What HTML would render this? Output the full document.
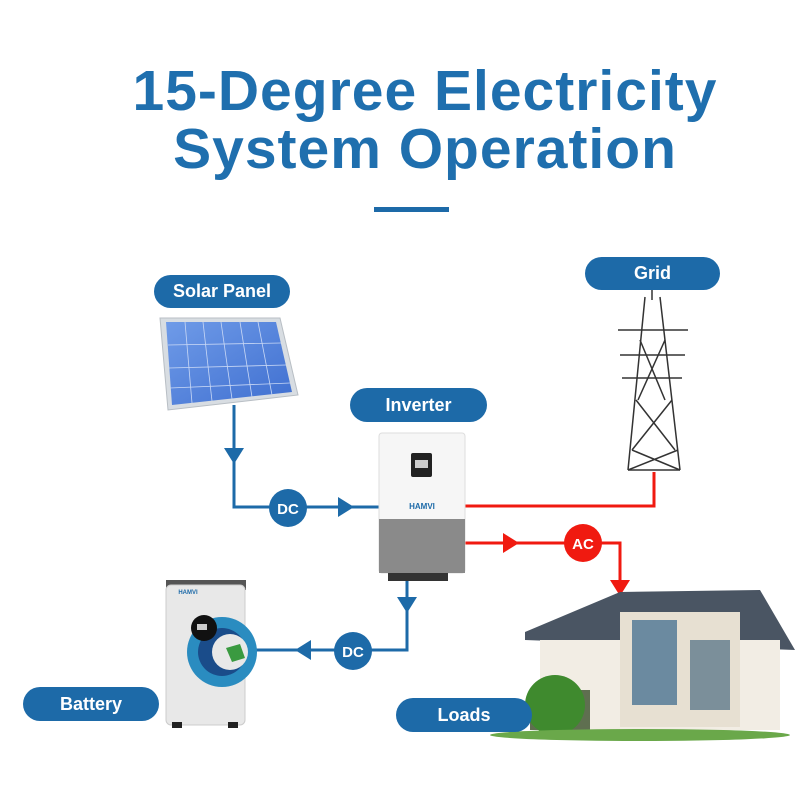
<!DOCTYPE html><html><head><style>
body{margin:0;width:800px;height:800px;background:#fff;overflow:hidden;position:relative;font-family:"Liberation Sans",sans-serif}
.t{position:absolute;left:25px;width:800px;text-align:center;color:#1f6fae;font-weight:bold;font-size:57px;line-height:58px;letter-spacing:1px}
.p{position:absolute;background:#1d6aa8;color:#fff;font-weight:bold;font-size:18px;border-radius:18px;text-align:center}
</style></head><body>
<div class="t" style="top:62px">15-Degree Electricity</div>
<div class="t" style="top:120px">System Operation</div>
<div style="position:absolute;left:374px;top:207px;width:75px;height:5px;background:#1d6aa8"></div>
<svg width="800" height="800" style="position:absolute;left:0;top:0">
<defs><linearGradient id="sp" x1="0" y1="0" x2="1" y2="1"><stop offset="0" stop-color="#6f9be8"/><stop offset="1" stop-color="#3f6fd0"/></linearGradient></defs>
<polygon points="160,318 280,318 298,395 168,410" fill="#d8dde2" stroke="#b8bec4"/>
<polygon points="166,322 276,322 292,392 172,405" fill="url(#sp)"/>
<g stroke="#c9d8f5" stroke-width="0.8">
<line x1="185" y1="322" x2="192" y2="403"/><line x1="203" y1="322" x2="212" y2="401"/><line x1="221" y1="322" x2="232" y2="399"/><line x1="240" y1="322" x2="252" y2="397"/><line x1="258" y1="322" x2="272" y2="395"/>
<line x1="168" y1="345" x2="281" y2="343"/><line x1="169" y1="368" x2="286" y2="365"/><line x1="170" y1="388" x2="290" y2="383"/></g>
<g stroke="#333" stroke-width="1.5" fill="none">
<path d="M645,297 L628,470 M660,297 L680,470 M652,290 L652,300"/>
<path d="M618,330 L688,330 M620,355 L685,355 M622,378 L682,378"/>
<path d="M640,340 L665,400 M665,340 L638,400 M636,400 L675,450 M672,400 L632,450 M632,450 L680,470 M678,450 L628,470"/>
<path d="M628,470 L680,470"/></g>
<g stroke="#1d6aa8" stroke-width="3" fill="none">
<polyline points="234,405 234,507 379,507"/><polyline points="407,573 407,650 245,650"/></g>
<g fill="#1d6aa8">
<polygon points="224,448 244,448 234,464"/><polygon points="338,497 338,517 354,507"/>
<polygon points="397,597 417,597 407,613"/><polygon points="311,640 311,660 295,650"/>
<circle cx="288" cy="508" r="19"/><circle cx="353" cy="651" r="19"/></g>
<g stroke="#f01a10" stroke-width="3" fill="none">
<polyline points="465,506 654,506 654,472"/><polyline points="465,543 620,543 620,585"/></g>
<g fill="#f01a10"><polygon points="503,533 503,553 519,543"/><polygon points="610,580 630,580 620,596"/><circle cx="583" cy="543" r="19"/></g>
<g fill="#fff" font-weight="bold" font-size="15" text-anchor="middle" font-family="Liberation Sans">
<text x="288" y="514">DC</text><text x="353" y="657">DC</text><text x="583" y="549">AC</text></g>
<rect x="379" y="433" width="86" height="140" rx="3" fill="#f6f6f6" stroke="#ddd"/>
<rect x="379" y="519" width="86" height="54" fill="#8a8a8a"/>
<rect x="411" y="453" width="21" height="24" rx="2" fill="#222"/><rect x="415" y="460" width="13" height="8" fill="#ccc"/>
<text x="422" y="509" font-size="8" font-weight="bold" fill="#1d6aa8" text-anchor="middle" font-family="Liberation Sans">HAMVI</text>
<rect x="388" y="573" width="60" height="8" fill="#333"/>
<rect x="166" y="580" width="80" height="10" fill="#555"/>
<rect x="166" y="585" width="79" height="140" rx="5" fill="#e8e8e8" stroke="#ccc"/>
<text x="188" y="594" font-size="6" font-weight="bold" fill="#1d6aa8" text-anchor="middle" font-family="Liberation Sans">HAMVI</text>
<circle cx="222" cy="652" r="35" fill="#2a8cc0"/><circle cx="222" cy="652" r="24" fill="#1a4c8a"/><circle cx="230" cy="652" r="18" fill="#e8e8e8"/>
<circle cx="204" cy="628" r="13" fill="#111"/><rect x="197" y="624" width="10" height="6" fill="#ccc"/>
<polygon points="226,648 240,644 245,658 232,662" fill="#3a9a40"/>
<rect x="172" y="722" width="10" height="6" fill="#222"/><rect x="228" y="722" width="10" height="6" fill="#222"/>
<polygon points="525,632 620,592 760,590 795,650 525,640" fill="#4a5563"/>
<rect x="540" y="640" width="240" height="90" fill="#f2ede4"/>
<rect x="620" y="612" width="120" height="115" fill="#e7e0d2"/>
<rect x="632" y="620" width="45" height="85" fill="#6b8aa0"/>
<rect x="690" y="640" width="40" height="70" fill="#7b8f9a"/>
<rect x="530" y="690" width="60" height="40" fill="#5f6f50"/>
<ellipse cx="555" cy="705" rx="30" ry="30" fill="#3f8a2e"/>
<ellipse cx="640" cy="735" rx="150" ry="6" fill="#6aa84a"/>
</svg>
<div class="p" style="left:154px;top:275px;width:136px;height:33px;line-height:33px">Solar Panel</div>
<div class="p" style="left:585px;top:257px;width:135px;height:33px;line-height:33px">Grid</div>
<div class="p" style="left:350px;top:388px;width:137px;height:34px;line-height:34px">Inverter</div>
<div class="p" style="left:23px;top:687px;width:136px;height:34px;line-height:34px">Battery</div>
<div class="p" style="left:396px;top:698px;width:136px;height:34px;line-height:34px">Loads</div>
</body></html>
